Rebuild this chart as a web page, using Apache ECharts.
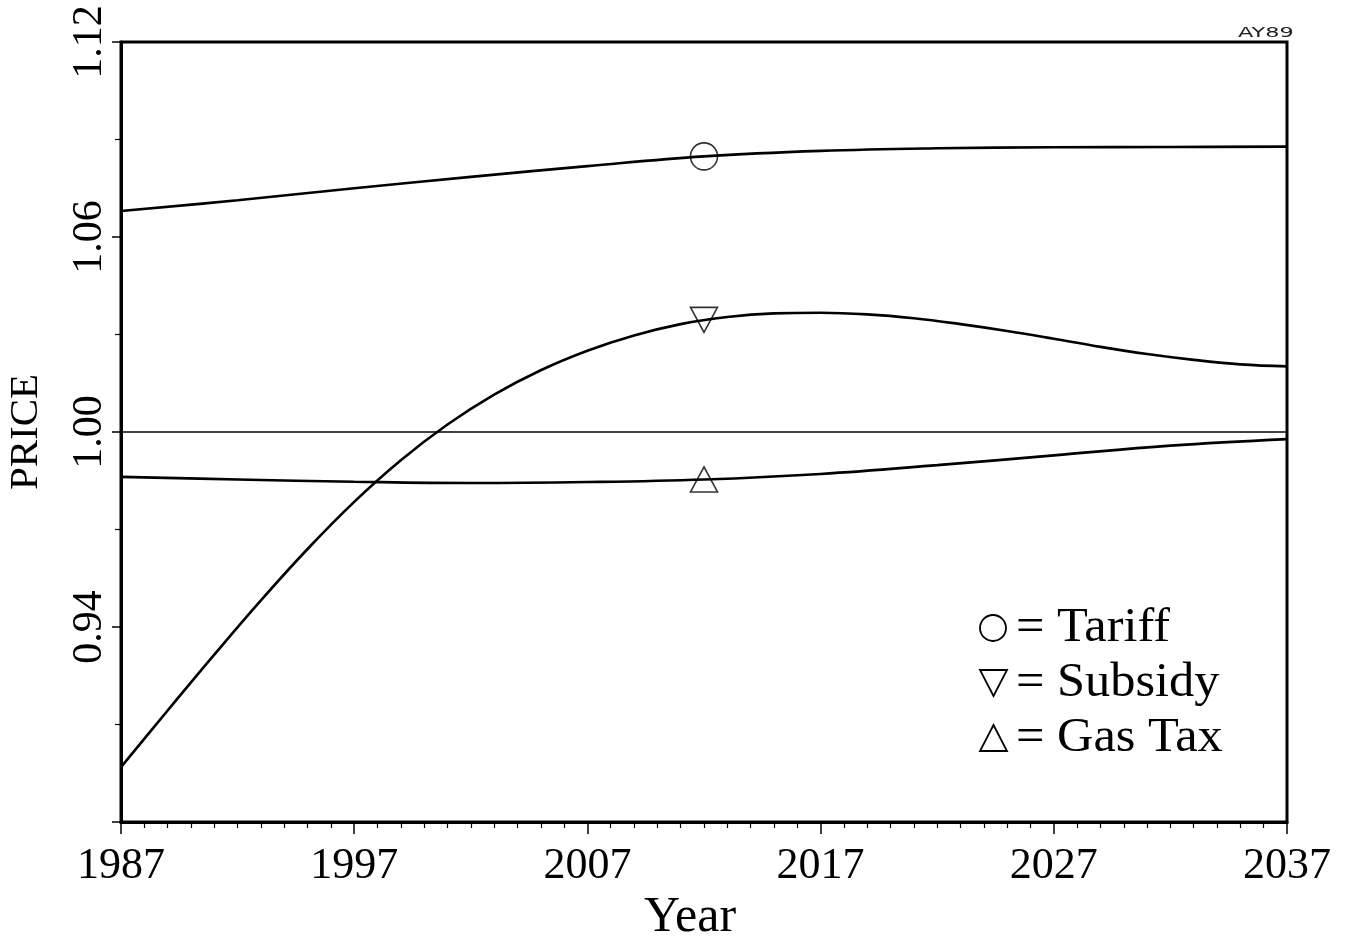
<!DOCTYPE html>
<html>
<head>
<meta charset="utf-8">
<script src="https://cdn.jsdelivr.net/npm/echarts@6/dist/echarts.min.js"></script>
<style>
html,body{margin:0;padding:0;background:#fff;}
#chart{width:1349px;height:941px;}
</style>
</head>
<body>
<div id="chart"></div>
<script>
// ---- data ----
const tariffYears  = [1987, 1992, 1997, 2002, 2007, 2012, 2017, 2022, 2027, 2032, 2037];
const tariffValues = [1.0680, 1.0713, 1.0750, 1.0785, 1.0818, 1.0848, 1.0865, 1.0873, 1.0876, 1.0877, 1.0878];

const subsidyYears  = [1987, 1989, 1991, 1993, 1995, 1997, 1999, 2001, 2003, 2005, 2007, 2009, 2011, 2013, 2015, 2017, 2019, 2021, 2023, 2025, 2027, 2029, 2031, 2033, 2035, 2037];
const subsidyValues = [0.8969, 0.9143, 0.9315, 0.9482, 0.9640, 0.9785, 0.9913, 1.0023, 1.0115, 1.0190, 1.0250, 1.0297, 1.0332, 1.0354, 1.0365, 1.0367, 1.0362, 1.0350, 1.0332, 1.0311, 1.0287, 1.0262, 1.0240, 1.0222, 1.0208, 1.0202];

const gasTaxYears  = [1987, 1992, 1997, 2002, 2007, 2012, 2017, 2022, 2027, 2032, 2037];
const gasTaxValues = [0.9862, 0.9854, 0.9847, 0.9843, 0.9846, 0.9854, 0.9871, 0.9898, 0.9928, 0.9958, 0.9978];

const baseYears  = [1987, 2037];
const baseValues = [1.00, 1.00];

const markerYear   = 2012;
const markerValues = [1.0848, 1.0345, 0.9854]; // Tariff, Subsidy, Gas Tax

const xTickLabels = ['1987', '1997', '2007', '2017', '2027', '2037'];
const yTickLabels = ['', '0.94', '1.00', '1.06', '1.12'];
const legendLabels = ['Tariff', 'Subsidy', 'Gas Tax'];
const cornerLabel = 'AY89';

// ---- chart ----
const zip = (xs, ys) => xs.map((x, i) => [x, ys[i]]);
const serif = '"Liberation Serif", "DejaVu Serif", serif';
const chart = echarts.init(document.getElementById('chart'), null, {renderer: 'canvas'});

const lineStyle = {color: '#000', width: 2.6};
const markerItem = {color: 'rgba(0,0,0,0)', borderColor: '#000', borderWidth: 1.6};
const legendShape = {fill: 'none', stroke: '#000', lineWidth: 1.8};
const legendText = (txt, x, y) => ({type: 'text', x: x, y: y, scaleX: 1.05,
  style: {text: txt, font: '48px ' + serif, fill: '#000', verticalAlign: 'middle'}});

chart.setOption({
  backgroundColor: '#fff',
  animation: false,
  grid: {left: 121, right: 62, top: 42, bottom: 119, containLabel: false, outerBoundsMode: 'none',
         show: true, borderColor: '#000', borderWidth: 3, backgroundColor: 'transparent'},
  xAxis: {
    type: 'value', min: 1987, max: 2037, interval: 10,
    name: 'Year', nameLocation: 'middle', nameGap: 64,
    nameTextStyle: {fontFamily: serif, fontSize: 50, color: '#000', padding: [0, 28, 0, 0]},
    axisLine: {show: true, lineStyle: {color: '#000', width: 3}},
    axisTick: {show: true, length: 12, lineStyle: {color: '#000', width: 1.5}},
    minorTick: {show: true, splitNumber: 10, length: 6, lineStyle: {color: '#000', width: 1.2}},
    splitLine: {show: false},
    axisLabel: {
      margin: 22, fontFamily: serif, fontSize: 44, color: '#000',
      formatter: (v, i) => xTickLabels[i] !== undefined ? xTickLabels[i] : ''
    }
  },
  yAxis: {
    type: 'value', min: 0.88, max: 1.12, interval: 0.06,
    name: 'PRICE', nameLocation: 'middle', nameGap: 74, nameRotate: 90,
    nameTextStyle: {fontFamily: serif, fontSize: 41, color: '#000'},
    axisLine: {show: true, lineStyle: {color: '#000', width: 3}},
    axisTick: {show: true, length: 9, lineStyle: {color: '#000', width: 1.5}},
    minorTick: {show: true, splitNumber: 2, length: 6, lineStyle: {color: '#000', width: 1.2}},
    splitLine: {show: false},
    axisLabel: {
      rotate: 90, margin: 10, fontFamily: serif, fontSize: 42, color: '#000',
      formatter: (v, i) => yTickLabels[i] !== undefined ? yTickLabels[i] : ''
    }
  },
  series: [
    {name: 'Base', type: 'line', data: zip(baseYears, baseValues), showSymbol: false, lineStyle: {color: '#000', width: 1.6}, z: 2},
    {name: 'Tariff', type: 'line', smooth: 0.4, data: zip(tariffYears, tariffValues), showSymbol: false, lineStyle: lineStyle, z: 3},
    {name: 'Subsidy', type: 'line', smooth: 0.4, data: zip(subsidyYears, subsidyValues), showSymbol: false, lineStyle: lineStyle, z: 3},
    {name: 'Gas Tax', type: 'line', smooth: 0.4, data: zip(gasTaxYears, gasTaxValues), showSymbol: false, lineStyle: lineStyle, z: 3},
    {name: 'Tariff mark', type: 'scatter', data: [[markerYear, markerValues[0]]], symbol: 'circle', symbolSize: 27, itemStyle: markerItem, z: 4},
    {name: 'Subsidy mark', type: 'scatter', data: [[markerYear, markerValues[1]]], symbol: 'triangle', symbolRotate: 180, symbolSize: [27, 25], itemStyle: markerItem, z: 4},
    {name: 'Gas Tax mark', type: 'scatter', data: [[markerYear, markerValues[2]]], symbol: 'triangle', symbolSize: [27, 25], itemStyle: markerItem, z: 4}
  ],
  graphic: [
    {type: 'circle', shape: {cx: 993, cy: 628, r: 13}, style: legendShape},
    {type: 'polygon', shape: {points: [[980, 670], [1007, 670], [993.5, 696]]}, style: legendShape},
    {type: 'polygon', shape: {points: [[980, 751], [1007, 751], [993.5, 725]]}, style: legendShape},
    legendText('=', 1016, 628),
    legendText('=', 1016, 683),
    legendText('=', 1016, 738),
    legendText(legendLabels[0], 1057, 628),
    legendText(legendLabels[1], 1057, 683),
    legendText(legendLabels[2], 1057, 738),
    {type: 'text', x: 1238, y: 40, scaleX: 1.6, style: {text: cornerLabel, font: '14px "DejaVu Sans", sans-serif', fill: '#222', verticalAlign: 'bottom'}}
  ]
});
</script>
</body>
</html>
